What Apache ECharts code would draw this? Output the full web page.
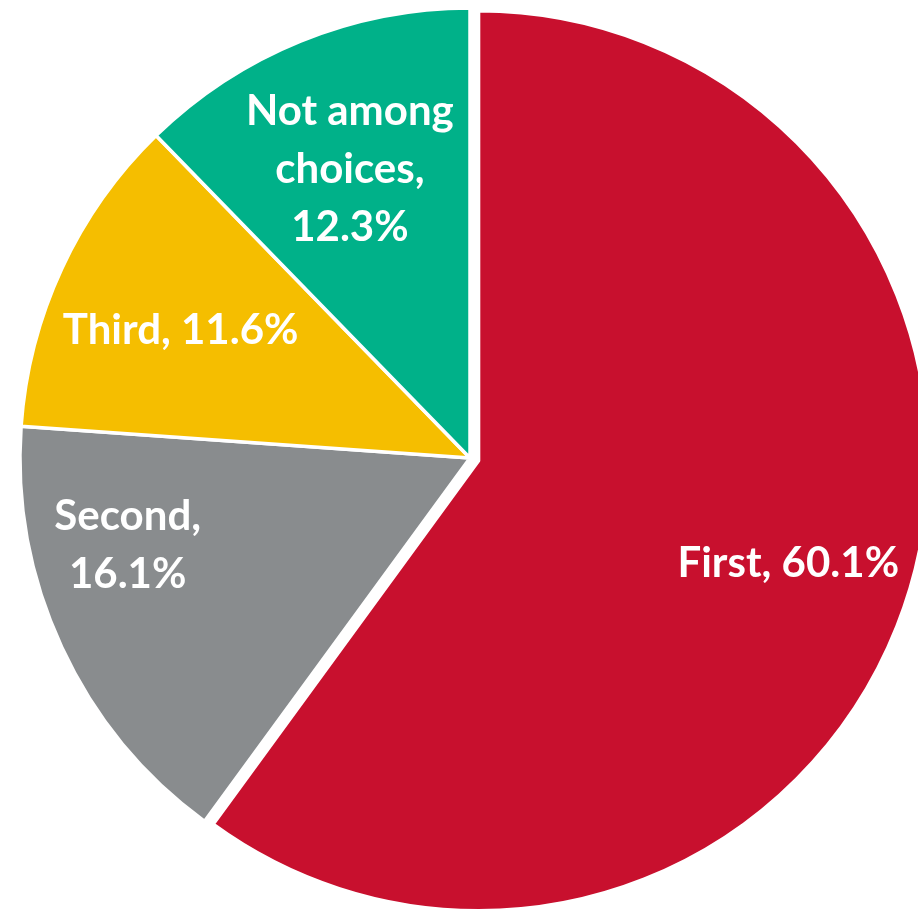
<!DOCTYPE html>
<html>
<head>
<meta charset="utf-8">
<script src="https://cdn.jsdelivr.net/npm/echarts@6/dist/echarts.min.js"></script>
<style>html,body{margin:0;padding:0;background:#fff;}#c{width:918px;height:913px;}</style>
</head>
<body>
<div id="c"></div>
<script>
const categories = ['First', 'Second', 'Third', 'Not among choices'];
const values = [60.1, 16.1, 11.6, 12.3];
const labelTexts = ['First, 60.1%', 'Second,\n16.1%', 'Third, 11.6%', 'Not among\nchoices,\n12.3%'];
const colors = ['#C8102E', '#898C8E', '#F5BE00', '#00B189'];

const chart = echarts.init(document.getElementById('c'), null, {renderer: 'canvas'});
const center = [470, 458];
const R = 450;

const mainData = categories.map((c, i) => ({
  name: c, value: values[i],
  selected: i === 0,
  itemStyle: {color: colors[i]}
}));
const labelOffsets = [[15, 6], [-53, -47], [0, 7], [0, 7]];
const labelData = categories.map((c, i) => ({
  name: c, value: values[i],
  label: {formatter: labelTexts[i], offset: labelOffsets[i]}
}));

chart.setOption({
  animation: false,
  series: [
    {
      type: 'pie',
      center: center,
      radius: [0, R],
      startAngle: 90,
      clockwise: true,
      selectedMode: 'single',
      selectedOffset: 9,
      avoidLabelOverlap: false,
      label: {show: false},
      labelLine: {show: false},
      emphasis: {disabled: true},
      itemStyle: {borderColor: '#fff', borderWidth: 3.5},
      data: mainData
    },
    {
      type: 'pie',
      center: center,
      radius: [182, R],
      startAngle: 90,
      clockwise: true,
      silent: true,
      avoidLabelOverlap: false,
      itemStyle: {color: 'rgba(0,0,0,0)', borderWidth: 0},
      labelLine: {show: false},
      emphasis: {disabled: true},
      label: {
        show: true,
        position: 'inside',
        color: '#fff',
        fontFamily: 'Lato',
        fontWeight: 'bold',
        fontSize: 42,
        lineHeight: 58,
        align: 'center'
      },
      data: labelData
    }
  ]
});
</script>
</body>
</html>
